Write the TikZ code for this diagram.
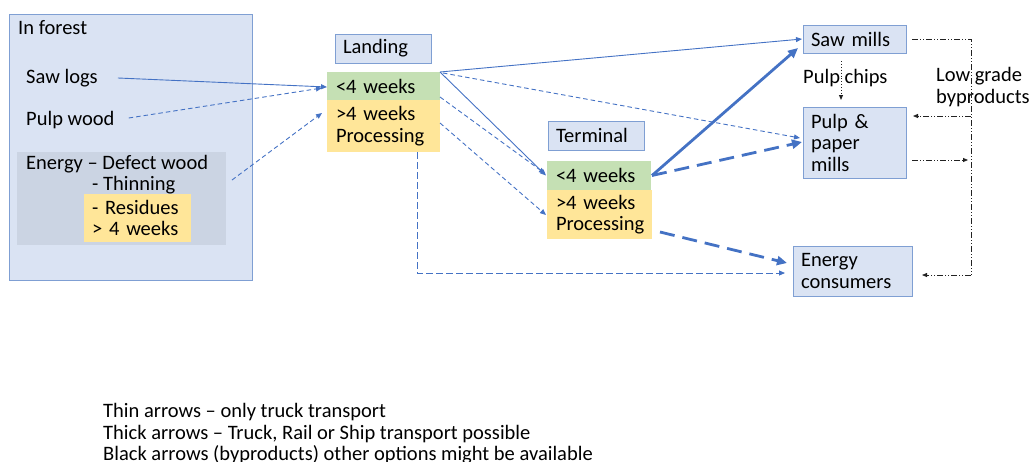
\documentclass[tikz,border=0pt]{standalone}
\usepackage{fontspec}
\setmainfont{Carlito}
\usetikzlibrary{arrows.meta,calc}

\definecolor{boxblue}{HTML}{DAE3F3}
\definecolor{boxedge}{HTML}{7F9FD3}
\definecolor{flowblue}{HTML}{4472C4}
\definecolor{greenfill}{HTML}{C5E0B4}
\definecolor{yellowfill}{HTML}{FFE699}
\definecolor{energyfill}{HTML}{CBD4E3}
\definecolor{byline}{HTML}{222222}

\tikzset{
  base/.style={anchor=north west, inner sep=0pt, outer sep=0pt},
  bluebox/.style={base, fill=boxblue, draw=boxedge, line width=0.9pt,
    align=left, inner xsep=8pt},
  greenbox/.style={base, fill=greenfill, align=left, inner xsep=9pt},
  yellowbox/.style={base, fill=yellowfill, align=left, inner xsep=9pt},
  txt/.style={anchor=west, inner sep=0pt, align=left},
  thin/.style={draw=flowblue, line width=0.9pt,
    -{Triangle[length=6pt,width=5pt]}},
  thindash/.style={thin, dash pattern=on 4.5pt off 3pt},
  longdash/.style={thin, dash pattern=on 7pt off 3pt},
  thick/.style={draw=flowblue, line width=2.8pt,
    -{Triangle[length=10pt,width=9pt]}},
  thickdash/.style={thick, dash pattern=on 15pt off 8pt},
  pchip/.style={draw=byline, line width=0.9pt, dotted,
    -{Triangle[length=5pt,width=4pt]}},
  byprod/.style={draw=byline, line width=0.8pt,
    dash pattern=on 6pt off 2pt on 1pt off 2pt on 1pt off 2pt},
  byarrow/.style={byprod, -{Triangle[length=5pt,width=4pt]}},
}

\begin{document}
\begin{tikzpicture}[x=1pt, y=-1pt, font=\fontsize{20.5}{21.5}\selectfont]
\useasboundingbox (0,0) rectangle (1030,461);

% --- forest area
\node[base, fill=boxblue, draw=boxedge, line width=0.9pt,
  minimum width=243pt, minimum height=266pt] (forest) at (9,14) {};
\node[txt] (inforest) at (18,28) {In forest};
\node[txt] (sawlogs) at (26,78) {Saw logs};
\node[txt] (pulpwood) at (26,120) {Pulp wood};
\node[base, fill=energyfill, minimum width=209pt, minimum height=93pt]
  (energy) at (17,152) {};
\node[txt] (defect) at (26,164) {Energy -- Defect wood};
\node[txt] (thinning) at (92,185) {- Thinning};
\node[yellowbox, inner xsep=8pt, minimum width=107pt, minimum height=48pt,
  text width=91pt] (residues) at (84,194) {- Residues\\> 4 weeks};

% --- landing
\node[bluebox, minimum width=96pt, minimum height=29pt, text width=80pt]
  (landing) at (335,34) {Landing};
\node[greenbox, minimum width=113pt, minimum height=28pt, text width=95pt]
  (lshort) at (327,72) {<4 weeks};
\node[yellowbox, minimum width=113pt, minimum height=52pt, text width=95pt]
  (llong) at (327,100) {>4 weeks\\Processing};

% --- terminal
\node[bluebox, minimum width=96pt, minimum height=29pt, text width=80pt]
  (terminal) at (548,121) {Terminal};
\node[greenbox, minimum width=104pt, minimum height=29pt, text width=86pt]
  (tshort) at (547,161) {<4 weeks};
\node[yellowbox, minimum width=105pt, minimum height=49pt, text width=87pt]
  (tlong) at (547,190) {>4 weeks\\Processing};

% --- consumers
\node[bluebox, minimum width=103pt, minimum height=28pt, text width=87pt]
  (sawmills) at (803,25) {Saw mills};
\node[bluebox, minimum width=103pt, minimum height=71pt, text width=87pt]
  (pulpmills) at (803,107) {Pulp \&\\paper\\mills};
\node[bluebox, minimum width=119pt, minimum height=50pt, text width=103pt]
  (energycons) at (793,246) {Energy\\consumers};

% --- labels
\node[txt] (pulpchips) at (803,78) {Pulp chips};
\node[txt] (lowgrade) at (936,87) {Low grade\\byproducts};

% --- legend
\node[txt] (legend) at (103,434) {Thin arrows -- only truck transport\\
  Thick arrows -- Truck, Rail or Ship transport possible\\
  Black arrows (byproducts) other options might be available};

% --- flows from the forest to the landing
\coordinate (slogend) at ($(lshort.north west)+(0,15)$);
\coordinate (pwoodend) at ($(lshort.north west)+(-5,16)$);
\coordinate (energyend) at ($(llong.north west)+(-5,13)$);
\draw[thin] ([xshift=20pt]sawlogs.east) -- (slogend);
\draw[thindash] ([xshift=14pt,yshift=2pt]pulpwood.east) -- (pwoodend);
\draw[thindash] ($(energy.north east)+(6,28)$) -- (energyend);

% --- flows from the landing
\draw[thin] (lshort.north east) -- ($(sawmills.west)+(-1,0)$);
\draw[thin] (lshort.north east) -- ($(tshort.west)+(-1,0)$);
\draw[thindash] ($(lshort.north east)+(3,1)$) -- ($(pulpmills.north west)+(-3,31)$);
\draw[thindash] ($(lshort.south east)+(0,-3)$) -- ($(tshort.west)+(-2,-2)$);
\draw[thindash] ($(llong.north east)+(0,23)$) -- ($(tlong.north west)+(-1,25)$);
\draw[longdash] ($(llong.south west)+(90,0)$) |- ($(energycons.west)+(-8,2)$);

% --- flows from the terminal
\draw[thick] ($(tshort.east)+(1,0)$) -- ($(sawmills.south west)+(-5,-5)$);
\draw[thickdash] ($(tshort.east)+(1,0)$) -- ($(pulpmills.north west)+(-1,35)$);
\draw[thickdash] ($(tlong.south east)+(8,-7)$) -- ($(energycons.west)+(-6,-8)$);

% --- byproducts
\draw[pchip] ($(sawmills.south west)+(38,8)$) -- ($(pulpmills.north west)+(38,-7)$);
\coordinate (bytop) at (971,39);
\coordinate (bybot) at (971,275);
\draw[byprod] ($(sawmills.east)+(6,0)$) -- (bytop) -- (bybot);
\draw[byarrow] (971,116) -- ($(pulpmills.north east)+(7,9)$);
\draw[byarrow] ($(pulpmills.north east)+(6,53)$) -- (968,160);
\draw[byarrow] (bybot) -- ($(energycons.north east)+(10,29)$);
\end{tikzpicture}
\end{document}
